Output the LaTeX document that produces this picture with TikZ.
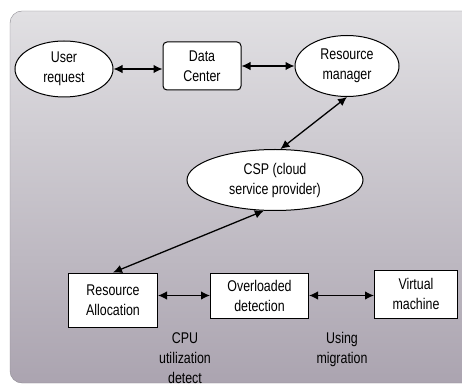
\documentclass[tikz,border=0pt]{standalone}
\usepackage{fontspec}
\setmainfont[FakeStretch=0.8]{Liberation Sans}
\usetikzlibrary{positioning, shapes.geometric, arrows.meta}
\definecolor{bgtop}{RGB}{225,224,227}
\definecolor{bgbot}{RGB}{171,164,176}
\definecolor{bgline}{RGB}{140,138,145}
\tikzset{
    x=1pt, y=1pt,
    oval/.style={ellipse, draw=black, line width=1pt, fill=white, inner sep=0pt,
        align=center, font=\fontsize{15.5}{20}\selectfont},
    box/.style={rectangle, draw=black, line width=1pt, fill=white, inner sep=0pt,
        align=center, font=\fontsize{15.5}{20}\selectfont},
    link/.style={line width=1.3pt, {Latex[length=9pt,width=8.5pt]}-{Latex[length=9pt,width=8.5pt]}},
    note/.style={align=center, font=\fontsize{15.5}{20}\selectfont}
}

\begin{document}
\begin{tikzpicture}
    \useasboundingbox (0,0) rectangle (462,388);
    \begin{scope}
        \clip (0,0) rectangle (462,388);
        \draw[bgline, top color=bgtop, bottom color=bgbot, rounded corners=12pt]
            (10,5) rectangle (480,377);
    \end{scope}

    % top row
    \node[oval, minimum width=98pt, minimum height=56pt] (ur) at (64,319) {User\\request};
    \node[box, rounded corners=4pt, minimum width=78pt, minimum height=48pt,
        right=49pt of ur, yshift=3pt] (dc) {Data\\Center};
    \node[oval, minimum width=104pt, minimum height=61pt,
        right=53pt of dc] (rm) {Resource\\manager};

    % provider
    \node[oval, minimum width=176pt, minimum height=61pt] (csp) at (275,208)
        {CSP (cloud\\service provider)};

    % bottom row
    \node[box, minimum width=89pt, minimum height=54pt] (ra) at (113,88) {Resource\\Allocation};
    \node[box, minimum width=98pt, minimum height=45pt,
        right=52pt of ra.north east, anchor=north west] (od) {Overloaded\\detection};
    \node[box, minimum width=83pt, minimum height=48pt,
        right=65pt of od.south east, anchor=south west] (vm) {Virtual\\machine};

    \node[note] (cpu) at (185,30) {CPU\\utilization\\detect};
    \node[note] (mig) at (342,39) {Using\\migration};

    \draw[link] (ur) -- (ur -| dc.west);
    \draw[link] (dc.east) -- (dc.east -| rm.west);
    \draw[link] (rm.south) -- (csp.80);
    \draw[link] (csp.250) -- (ra.north);
    \draw[link] (ra.east |- od.west) -- (od.west);
    \draw[link] (od.east) -- (vm.west |- od.east);
\end{tikzpicture}
\end{document}
